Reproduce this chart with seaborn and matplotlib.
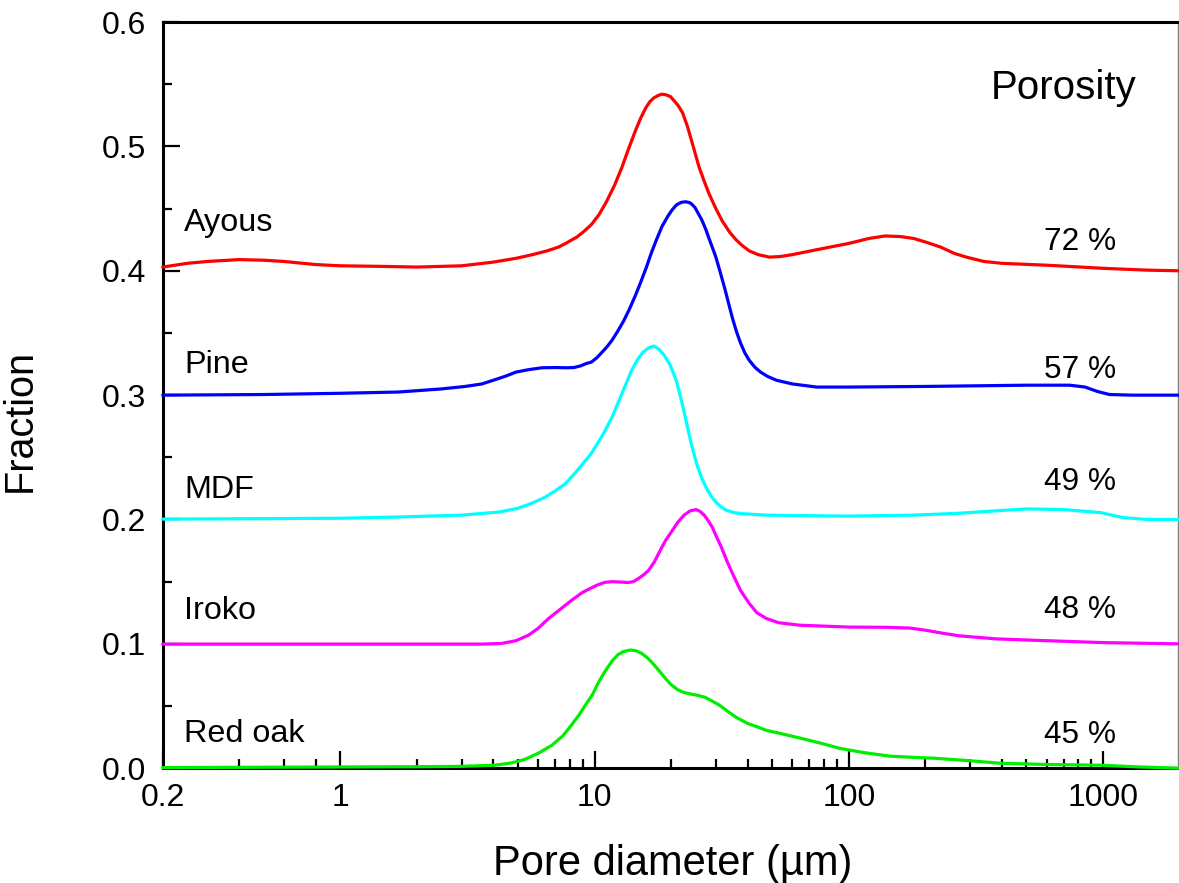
import numpy as np
import pandas as pd
import matplotlib
matplotlib.use("Agg")
import matplotlib.pyplot as plt
import seaborn as sns
from matplotlib.ticker import FixedLocator, NullFormatter

# ---------------- data ----------------
names = ["Ayous", "Pine", "MDF", "Iroko", "Red oak"]
porosity = ["72 %", "57 %", "49 %", "48 %", "45 %"]
colors = ["#ff0000", "#0000ff", "#00ffff", "#ff00ff", "#00ee00"]

ayous_x = [0.2, 0.25, 0.3, 0.4, 0.5, 0.6, 0.8, 1.0, 1.5, 2.0, 3.0, 4.0, 4.9, 5.7, 6.5,
           7.2, 7.7, 8.0, 8.5, 9.0, 9.7, 10.4, 11.1, 12.0, 12.8, 13.6, 14.5, 15.2, 15.9,
           16.5, 17.1, 17.8, 18.4, 19.1, 19.9, 20.5, 21.3, 22.2, 23.2, 24.2, 25.8, 27.0,
           28.2, 30, 31.8, 34, 36, 38, 40.6, 44, 48.7, 54, 60, 75, 100, 120, 139, 160,
           180, 205, 230, 260, 290, 340, 400, 600, 1000, 1500, 2000]
ayous_y = [0.403, 0.406, 0.4075, 0.409, 0.4085, 0.4075, 0.405, 0.404, 0.4035, 0.403,
           0.404, 0.407, 0.410, 0.413, 0.416, 0.419, 0.422, 0.424, 0.427, 0.431, 0.437,
           0.445, 0.455, 0.469, 0.483, 0.498, 0.513, 0.523, 0.531, 0.536, 0.539, 0.541,
           0.542, 0.5415, 0.540, 0.537, 0.533, 0.527, 0.516, 0.503, 0.483, 0.472, 0.462,
           0.450, 0.440, 0.431, 0.425, 0.4205, 0.416, 0.413, 0.411, 0.4115, 0.413, 0.417,
           0.422, 0.426, 0.428, 0.4275, 0.426, 0.4225, 0.419, 0.414, 0.411, 0.4075, 0.406,
           0.4045, 0.402, 0.4005, 0.400]

pine_x = [0.2, 0.5, 1.0, 1.69, 2.5, 3.1, 3.6, 4.0, 4.5, 4.9, 5.5, 6.2, 7.0, 7.7, 8.3,
          8.8, 9.3, 9.7, 10.2, 10.7, 11.2, 11.7, 12.3, 13.0, 13.7, 14.5, 15.2, 16.0, 16.7,
          17.4, 18.4, 19.5, 20.2, 21.0, 21.9, 22.8, 23.5, 24.0, 24.8, 25.6, 26.4, 27.3,
          28.2, 29.1, 30.0, 31.2, 32.5, 33.6, 34.8, 36.1, 37.5, 39, 40.6, 42.7, 45, 48,
          51.9, 60, 74.7, 100, 200, 500, 740, 850, 950, 1060, 1300, 2000]
pine_y = [0.300, 0.3005, 0.3015, 0.3025, 0.305, 0.307, 0.309, 0.312, 0.3155, 0.3185,
          0.3205, 0.322, 0.3222, 0.322, 0.3222, 0.3235, 0.3255, 0.3265, 0.330, 0.3345,
          0.339, 0.344, 0.351, 0.3595, 0.369, 0.3805, 0.391, 0.403, 0.414, 0.4235, 0.4355,
          0.4445, 0.449, 0.453, 0.455, 0.4555, 0.455, 0.454, 0.451, 0.446, 0.441, 0.434,
          0.426, 0.4185, 0.411, 0.399, 0.386, 0.3745, 0.3625, 0.3515, 0.342, 0.334,
          0.328, 0.3225, 0.3185, 0.315, 0.312, 0.309, 0.3065, 0.3065, 0.307, 0.308,
          0.308, 0.3065, 0.303, 0.3005, 0.300, 0.300]

mdf_x = [0.2, 1.0, 1.69, 3.0, 4.2, 5.0, 5.66, 6.4, 7.0, 7.7, 8.6, 9.7, 10.7, 11.7, 12.8,
         14.0, 14.8, 15.5, 16.3, 17.1, 17.9, 18.8, 19.8, 20.9, 21.7, 22.5, 23.3, 24.2,
         25.2, 26.3, 27.5, 28.7, 30, 31.5, 32.9, 35.5, 38, 47.3, 98, 180, 271, 380, 500,
         700, 980, 1200, 1500, 2000]
mdf_y = [0.2003, 0.201, 0.202, 0.2035, 0.206, 0.209, 0.213, 0.218, 0.223, 0.229, 0.240,
         0.253, 0.267, 0.282, 0.301, 0.320, 0.329, 0.3345, 0.338, 0.3395, 0.337, 0.332,
         0.3245, 0.3125, 0.300, 0.2865, 0.2725, 0.258, 0.245, 0.234, 0.2255, 0.219,
         0.214, 0.210, 0.2075, 0.2055, 0.2047, 0.2035, 0.2027, 0.2035, 0.205, 0.207,
         0.2085, 0.208, 0.2055, 0.2015, 0.200, 0.200]

iroko_x = [0.2, 1, 3.6, 4.3, 4.9, 5.5, 6.0, 6.6, 7.3, 8.0, 8.9, 9.6, 10.3, 11.0, 11.7,
           12.7, 13.5, 14.2, 15.0, 15.7, 16.3, 17.2, 18.0, 19.0, 20.2, 21.3, 22.5, 23.8,
           25.1, 26.0, 27.0, 28.0, 29.0, 30.2, 31.5, 33.1, 34.8, 37.5, 40.6, 43.5, 47.3,
           53, 64, 100, 140, 174, 200, 235, 271, 380, 518, 1000, 2000]
iroko_y = [0.0998, 0.0998, 0.0998, 0.1003, 0.1025, 0.107, 0.1125, 0.1205, 0.1275, 0.134,
           0.141, 0.1445, 0.1475, 0.1495, 0.150, 0.1497, 0.1493, 0.150, 0.153, 0.156,
           0.159, 0.166, 0.174, 0.183, 0.191, 0.198, 0.2035, 0.207, 0.208, 0.2065, 0.2035,
           0.199, 0.194, 0.186, 0.178, 0.167, 0.157, 0.143, 0.1325, 0.125, 0.1205, 0.117,
           0.115, 0.1135, 0.1133, 0.1127, 0.111, 0.1085, 0.1065, 0.104, 0.103, 0.101,
           0.100]

oak_x = [0.2, 1, 2, 3, 4.05, 4.7, 5.3, 6.0, 6.8, 7.5, 8.1, 8.7, 9.2, 9.8, 10.3, 11.0,
         11.8, 12.4, 13.0, 13.8, 14.5, 15.3, 16.2, 17.0, 18.0, 19.0, 20.0, 21.2, 22.4,
         23.7, 25.5, 27.2, 29, 31, 33.5, 36, 40, 44, 47.3, 55, 65, 78, 92, 115, 145, 180,
         218, 300, 393, 600, 980, 1400, 2000]
oak_y = [0.0005, 0.001, 0.0012, 0.0015, 0.0024, 0.0042, 0.007, 0.012, 0.0185, 0.026,
         0.0345, 0.043, 0.0507, 0.059, 0.068, 0.078, 0.087, 0.0915, 0.0938, 0.095, 0.0945,
         0.0925, 0.0885, 0.084, 0.078, 0.0722, 0.0672, 0.0632, 0.061, 0.0598, 0.0586,
         0.057, 0.054, 0.0507, 0.0455, 0.041, 0.036, 0.033, 0.0305, 0.0275, 0.024, 0.020,
         0.016, 0.0125, 0.0097, 0.0087, 0.008, 0.006, 0.004, 0.003, 0.0024, 0.001, 0.0]

xtick_vals = [0.2, 1, 10, 100, 1000]
xtick_labels = ["0.2", "1", "10", "100", "1000"]
ytick_vals = [0.0, 0.1, 0.2, 0.3, 0.4, 0.5, 0.6]

series = [(ayous_x, ayous_y), (pine_x, pine_y), (mdf_x, mdf_y),
          (iroko_x, iroko_y), (oak_x, oak_y)]
frames = []
for n, (xs, ys) in zip(names, series):
    frames.append(pd.DataFrame({"d": xs, "f": ys, "wood": n}))
df = pd.concat(frames, ignore_index=True)

# ---------------- style ----------------
sns.set_style("white")
plt.rcParams["font.family"] = ["Liberation Sans", "DejaVu Sans"]
plt.rcParams["text.color"] = "black"
plt.rcParams["axes.labelcolor"] = "black"
plt.rcParams["xtick.color"] = "black"
plt.rcParams["ytick.color"] = "black"

fig = plt.figure(figsize=(11.79, 8.83), dpi=100)
ax = fig.add_axes([0.138, 0.130, 0.861, 0.845])

sns.lineplot(data=df, x="d", y="f", hue="wood", hue_order=names,
             palette=dict(zip(names, colors)), estimator=None, sort=False,
             linewidth=2.3, legend=False, ax=ax)
for ln in ax.lines:
    ln.set_clip_on(False)
    ln.set_zorder(3)
    ln.set_solid_joinstyle("round")
    ln.set_solid_capstyle("round")

ax.set_xscale("log")
ax.set_xlim(0.2, 1970)
ax.set_ylim(0, 0.6)

ax.xaxis.set_major_locator(FixedLocator(xtick_vals))
ax.set_xticklabels(xtick_labels)
minor_x = [0.4, 0.6, 0.8] + [k * 10 ** e for e in range(0, 3) for k in range(2, 10)]
ax.xaxis.set_minor_locator(FixedLocator(minor_x))
ax.xaxis.set_minor_formatter(NullFormatter())

ax.yaxis.set_major_locator(FixedLocator(ytick_vals))
ax.set_yticklabels([f"{v:.1f}" for v in ytick_vals])
ax.yaxis.set_minor_locator(FixedLocator([0.05, 0.15, 0.25, 0.35, 0.45, 0.55]))
ax.yaxis.set_minor_formatter(NullFormatter())

ax.tick_params(which="major", direction="in", length=12, width=1.6,
               labelsize=23, labelcolor="black", color="black", bottom=True,
               left=True, top=False, right=False)
ax.tick_params(axis="x", which="major", pad=11)
ax.tick_params(axis="y", which="major", pad=12)
ax.tick_params(which="minor", direction="in", length=6.5, width=1.6,
               color="black", bottom=True, left=True, top=False, right=False)

for side in ["left", "bottom", "top"]:
    ax.spines[side].set_color("black")
    ax.spines[side].set_linewidth(2.2)
ax.spines["right"].set_color("#808080")
ax.spines["right"].set_linewidth(1.0)

ax.set_xlabel("Pore diameter (\u00b5m)", fontsize=30, color="black")
ax.set_ylabel("Fraction", fontsize=28.5, color="black")
ax.xaxis.set_label_coords(0.502, -0.102)
ax.yaxis.set_label_coords(-0.122, 0.466)

# ---------------- annotations ----------------
name_y = [0.432, 0.318, 0.217, 0.120, 0.021]
pct_y = [0.417, 0.314, 0.2236, 0.1206, 0.020]
for n, yy in zip(names, name_y):
    ax.text(0.243, yy, n, fontsize=23.3, ha="left", va="baseline", color="black")
for p, yy in zip(porosity, pct_y):
    ax.text(811, yy, p, fontsize=22.8, ha="center", va="baseline", color="black")
ax.text(701, 0.538, "Porosity", fontsize=29, ha="center", va="baseline", color="black")

fig.savefig("out.png", dpi=100)
